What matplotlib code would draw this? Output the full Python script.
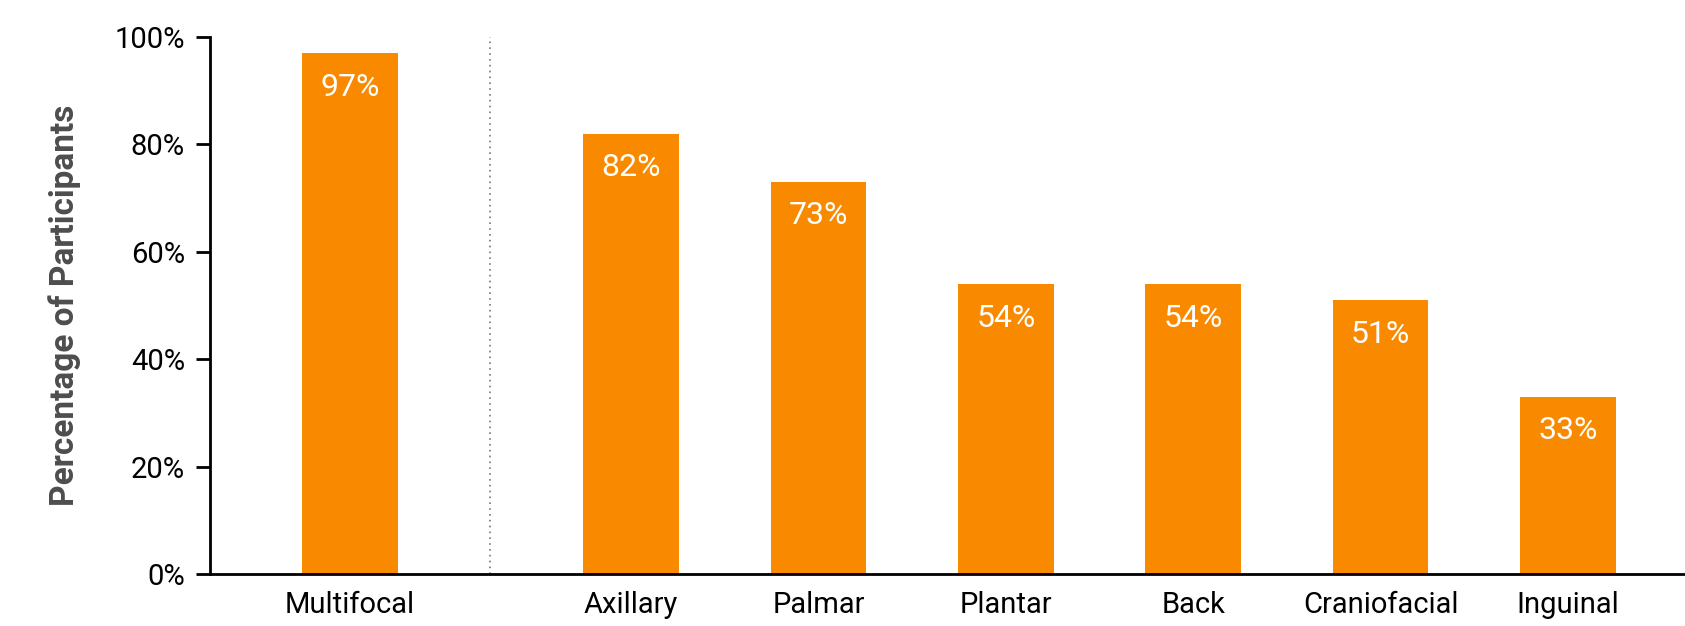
import matplotlib
matplotlib.use("Agg")
import matplotlib.pyplot as plt

# values
categories = ["Multifocal", "Axillary", "Palmar", "Plantar", "Back", "Craniofacial", "Inguinal"]
percentages = [97, 82, 73, 54, 54, 51, 33]
positions = [0, 1.5, 2.5, 3.5, 4.5, 5.5, 6.5]
y_ticks = [0, 20, 40, 60, 80, 100]

plt.rcParams['font.family'] = ['Roboto', 'DejaVu Sans']

fig = plt.figure(figsize=(16.85, 6.26), dpi=100)
ax = fig.add_axes([0.1246, 0.083, 0.8754, 0.858])

bar_color = '#F98A00'
bars = ax.bar(positions, percentages, width=0.51, color=bar_color, zorder=2)

# value labels inside the top of each bar
for bar, value in zip(bars, percentages):
    ax.annotate(f"{value}%", (bar.get_x() + bar.get_width() / 2, value),
                xytext=(0, -34), textcoords='offset pixels',
                ha='center', va='center', color='white', fontsize=23)

# dotted separator between Multifocal and the specific sites
ax.axvline(0.747, color='#777777', linestyle=(0, (1, 2.5)), linewidth=1.2, zorder=1)

ax.set_xlim(-0.747, 7.124)
ax.set_ylim(0, 100)
ax.set_xticks(positions)
ax.set_xticklabels(categories, fontsize=21)
ax.set_yticks(y_ticks)
ax.set_yticklabels([f"{t}%" for t in y_ticks], fontsize=21)
ax.tick_params(axis='x', length=0, pad=12)
ax.tick_params(axis='y', length=10, width=2, pad=8)

ax.set_ylabel("Percentage of Participants", fontsize=24, fontweight='bold',
              color='#4d4d4d', labelpad=24)

for side in ['top', 'right']:
    ax.spines[side].set_visible(False)
ax.spines['left'].set_linewidth(2)
ax.spines['bottom'].set_linewidth(2)

fig.savefig("out.png", dpi=100)
